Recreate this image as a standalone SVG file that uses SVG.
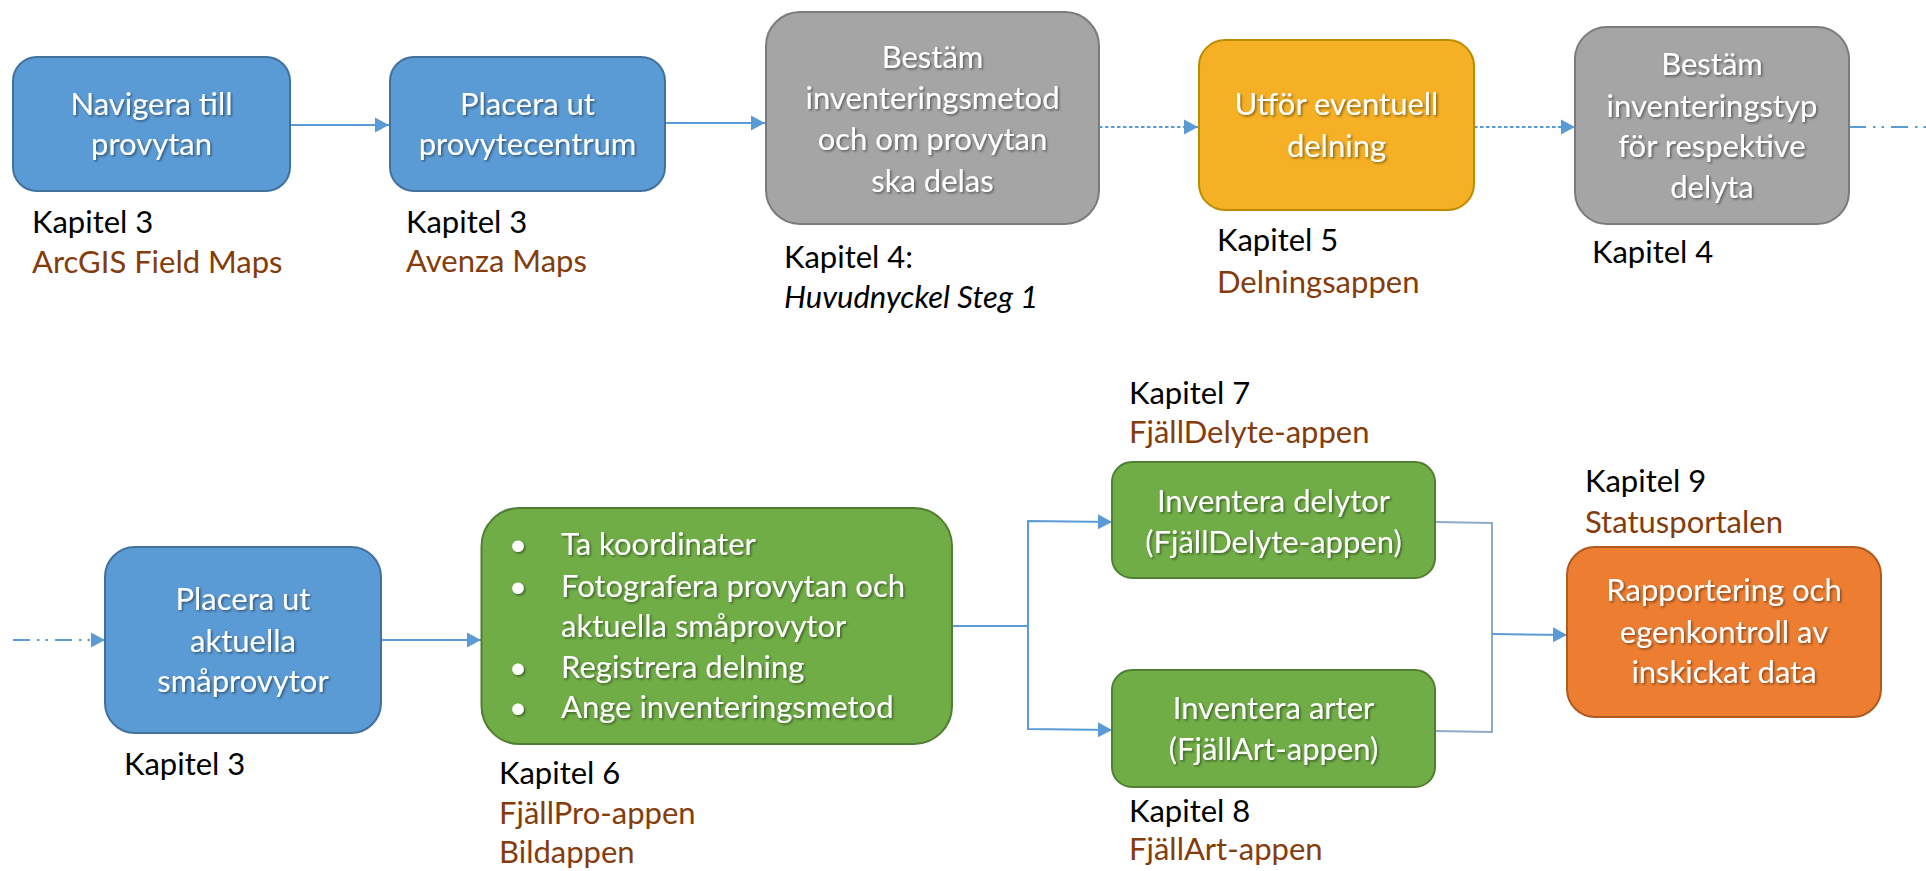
<svg xmlns="http://www.w3.org/2000/svg" width="1926" height="871" viewBox="0 0 1926 871">
<defs>
<marker id="ah" markerUnits="userSpaceOnUse" markerWidth="15" markerHeight="16" refX="14" refY="8" orient="auto" viewBox="0 0 15 16">
<path d="M0,0.5 L14,8 L0,15.5 Z" fill="#5B9BD5"/>
</marker>
<filter id="sh" x="-10%" y="-20%" width="120%" height="140%">
<feDropShadow dx="1.5" dy="1.5" stdDeviation="1" flood-color="#000" flood-opacity="0.45"/>
</filter>
</defs>
<style>
text{font-family:Lato,"Noto Sans",sans-serif;font-size:31px}
.w{fill:#fff;text-anchor:middle;filter:url(#sh)}
.wl{fill:#fff;filter:url(#sh)}
.k{fill:#000}
.b{fill:#843C0C}
.blue{fill:#5B9BD5;stroke:#41719C;stroke-width:2}
.gray{fill:#A5A5A5;stroke:#7B7B7B;stroke-width:2}
.gold{fill:#F5B025;stroke:#BC8C00;stroke-width:2}
.green{fill:#70AD47;stroke:#507E32;stroke-width:2}
.orange{fill:#ED7D31;stroke:#AE5A21;stroke-width:2}
.c{fill:none;stroke:#5B9BD5;stroke-width:2}
.cg{fill:none;stroke:#8FAAC9;stroke-width:2}
.dot{stroke-dasharray:3.5 2.5}
.dd{stroke-dasharray:17 7 2.5 6 2.5 7}
</style>
<rect width="1926" height="871" fill="#fff"/>
<g id="connectors">
<line class="c" x1="290" y1="125" x2="389" y2="125" marker-end="url(#ah)"/>
<line class="c" x1="665" y1="123" x2="765" y2="123" marker-end="url(#ah)"/>
<line class="c dot" x1="1099" y1="127" x2="1198" y2="127" marker-end="url(#ah)"/>
<line class="c dot" x1="1474" y1="127" x2="1575" y2="127" marker-end="url(#ah)"/>
<line class="c dd" x1="1849" y1="127" x2="1926" y2="127"/>
<line class="c dd" x1="13" y1="640" x2="105" y2="640" marker-end="url(#ah)"/>
<line class="c" x1="381" y1="640" x2="481" y2="640" marker-end="url(#ah)"/>
<polyline class="c" points="952,626 1028,626 1028,521 1112,522" marker-end="url(#ah)"/>
<polyline class="c" points="952,626 1028,626 1028,729 1112,730" marker-end="url(#ah)"/>
<polyline class="cg" points="1435,522 1492,523 1492,634"/>
<polyline class="cg" points="1435,731 1492,732 1492,634"/>
<line class="c" x1="1492" y1="634" x2="1567" y2="635" marker-end="url(#ah)"/>
</g>
<g id="n1">
<rect class="blue" x="13" y="57" width="277" height="134" rx="24"/>
<text class="w" x="151.5" y="115">Navigera till</text>
<text class="w" x="151.5" y="155">provytan</text>
<text class="k" x="32" y="233">Kapitel 3</text>
<text class="b" x="32" y="273">ArcGIS Field Maps</text>
</g>
<g id="n2">
<rect class="blue" x="390" y="57" width="275" height="134" rx="24"/>
<text class="w" x="527.5" y="115">Placera ut</text>
<text class="w" x="527.5" y="155">provytecentrum</text>
<text class="k" x="406" y="233">Kapitel 3</text>
<text class="b" x="406" y="272">Avenza Maps</text>
</g>
<g id="n3">
<rect class="gray" x="766" y="12" width="333" height="212" rx="34"/>
<text class="w" x="932.5" y="68">Bestäm</text>
<text class="w" x="932.5" y="109">inventeringsmetod</text>
<text class="w" x="932.5" y="150">och om provytan</text>
<text class="w" x="932.5" y="192">ska delas</text>
<text class="k" x="784" y="268">Kapitel 4:</text>
<text class="k" x="784" y="308" font-style="italic">Huvudnyckel Steg 1</text>
</g>
<g id="n4">
<rect class="gold" x="1199" y="40" width="275" height="170" rx="26"/>
<text class="w" x="1336.5" y="115">Utför eventuell</text>
<text class="w" x="1336.5" y="157">delning</text>
<text class="k" x="1217" y="251">Kapitel 5</text>
<text class="b" x="1217" y="293">Delningsappen</text>
</g>
<g id="n5">
<rect class="gray" x="1575" y="27" width="274" height="197" rx="32"/>
<text class="w" x="1712" y="75">Bestäm</text>
<text class="w" x="1712" y="117">inventeringstyp</text>
<text class="w" x="1712" y="157">för respektive</text>
<text class="w" x="1712" y="198">delyta</text>
<text class="k" x="1592" y="263">Kapitel 4</text>
</g>
<g id="n6">
<rect class="blue" x="105" y="547" width="276" height="186" rx="30"/>
<text class="w" x="243" y="610">Placera ut</text>
<text class="w" x="243" y="652">aktuella</text>
<text class="w" x="243" y="692">småprovytor</text>
<text class="k" x="124" y="775">Kapitel 3</text>
</g>
<g id="n7">
<rect class="green" x="481.5" y="508" width="470.5" height="236" rx="38"/>
<text class="wl" x="509" y="555">•</text>
<text class="wl" x="561" y="555">Ta koordinater</text>
<text class="wl" x="509" y="597">•</text>
<text class="wl" x="561" y="597">Fotografera provytan och</text>
<text class="wl" x="561" y="637">aktuella småprovytor</text>
<text class="wl" x="509" y="678">•</text>
<text class="wl" x="561" y="678">Registrera delning</text>
<text class="wl" x="509" y="718">•</text>
<text class="wl" x="561" y="718">Ange inventeringsmetod</text>
<text class="k" x="499" y="784">Kapitel 6</text>
<text class="b" x="499" y="824">FjällPro-appen</text>
<text class="b" x="499" y="863">Bildappen</text>
</g>
<g id="n8">
<rect class="green" x="1112" y="462" width="323" height="116" rx="20"/>
<text class="w" x="1273.5" y="512">Inventera delytor</text>
<text class="w" x="1273.5" y="553">(FjällDelyte-appen)</text>
<text class="k" x="1129" y="404">Kapitel 7</text>
<text class="b" x="1129" y="443">FjällDelyte-appen</text>
</g>
<g id="n9">
<rect class="green" x="1112" y="670" width="323" height="117" rx="20"/>
<text class="w" x="1273.5" y="719">Inventera arter</text>
<text class="w" x="1273.5" y="760">(FjällArt-appen)</text>
<text class="k" x="1129" y="822">Kapitel 8</text>
<text class="b" x="1129" y="860">FjällArt-appen</text>
</g>
<g id="n10">
<rect class="orange" x="1567" y="547" width="314" height="170" rx="28"/>
<text class="w" x="1724" y="601">Rapportering och</text>
<text class="w" x="1724" y="643">egenkontroll av</text>
<text class="w" x="1724" y="683">inskickat data</text>
<text class="k" x="1585" y="492">Kapitel 9</text>
<text class="b" x="1585" y="533">Statusportalen</text>
</g>
</svg>
